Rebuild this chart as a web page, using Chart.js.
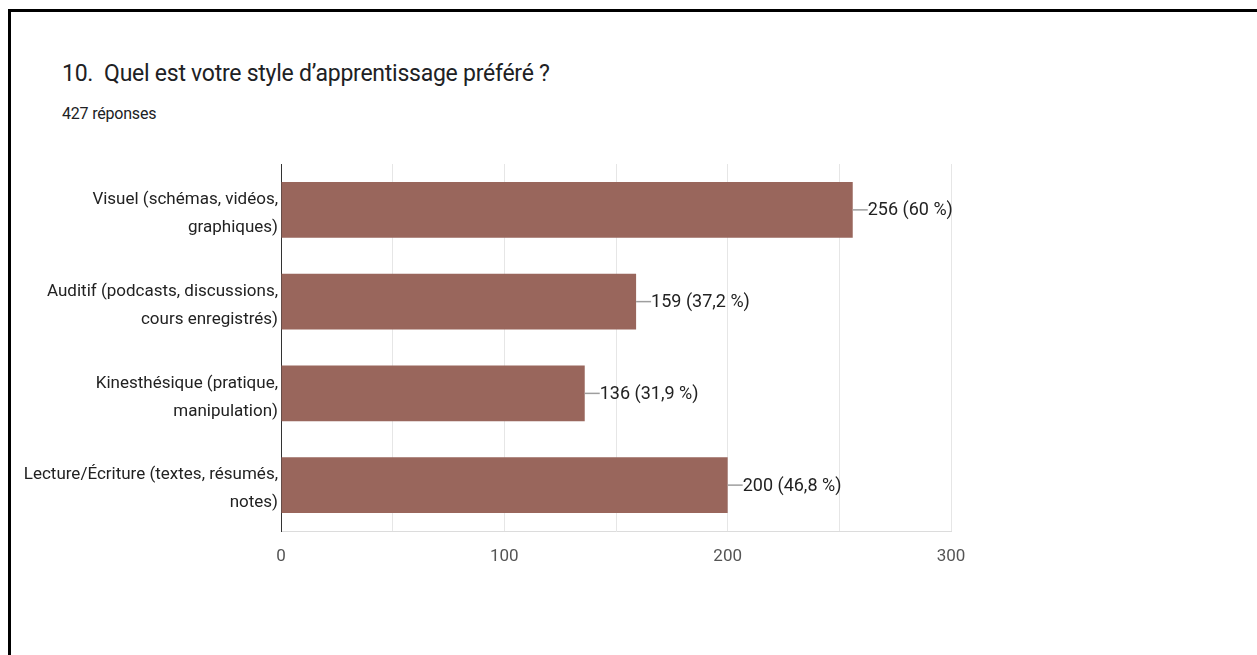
<!DOCTYPE html>
<html>
<head>
<meta charset="utf-8">
<script src="https://cdn.jsdelivr.net/npm/chart.js@4.4.1/dist/chart.umd.min.js"></script>
<style>
  html, body { margin: 0; padding: 0; background: #fff; width: 1257px; height: 655px; overflow: hidden; }
  #frameTop { position: absolute; left: 8px; top: 9px; width: 1249px; height: 3px; background: #000; }
  #frameLeft { position: absolute; left: 8px; top: 9px; width: 3px; height: 646px; background: #000; }
  #title { position: absolute; left: 62px; top: 60px; font-family: Roboto, "Noto Sans", sans-serif; font-size: 23px; color: #202124; white-space: pre; letter-spacing: -0.25px; }
  #subtitle { position: absolute; left: 62px; top: 104px; font-family: Roboto, "Noto Sans", sans-serif; font-size: 16px; color: #202124; letter-spacing: -0.2px; }
  #wrap { position: absolute; left: 21px; top: 141px; width: 1100px; height: 440px; }
</style>
</head>
<body>
<div id="frameTop"></div>
<div id="frameLeft"></div>
<div id="title">10.  Quel est votre style d’apprentissage préféré ?</div>
<div id="subtitle">427 réponses</div>
<div id="wrap"><canvas id="c"></canvas></div>
<script>
const categories = [
  ["Visuel (schémas, vidéos,", "graphiques)"],
  ["Auditif (podcasts, discussions,", "cours enregistrés)"],
  ["Kinesthésique (pratique,", "manipulation)"],
  ["Lecture/Écriture (textes, résumés,", "notes)"]
];
const counts = [256, 159, 136, 200];
const percents = ["60", "37,2", "31,9", "46,8"];
const xTicks = [0, 100, 200, 300];

const LABEL_FONT = "Roboto, sans-serif";

const valueLabels = {
  id: 'valueLabels',
  afterDatasetsDraw(chart) {
    const ctx = chart.ctx;
    const meta = chart.getDatasetMeta(0);
    ctx.save();
    meta.data.forEach((bar, i) => {
      const x = bar.x, y = bar.y;
      ctx.strokeStyle = '#9e9e9e';
      ctx.lineWidth = 1.5;
      ctx.beginPath();
      ctx.moveTo(x, y);
      ctx.lineTo(x + 15, y);
      ctx.stroke();
      ctx.fillStyle = '#222';
      ctx.font = "18px " + LABEL_FONT;
      ctx.textBaseline = 'middle';
      ctx.textAlign = 'left';
      ctx.fillText(counts[i] + ' (' + percents[i] + ' %)', x + 15, y + 1);
    });
    ctx.restore();
  }
};

new Chart(document.getElementById('c'), {
  type: 'bar',
  data: {
    labels: categories,
    datasets: [{
      data: counts,
      backgroundColor: '#99665c',
      borderWidth: 0,
      categoryPercentage: 1,
      barPercentage: 0.61
    }]
  },
  options: {
    indexAxis: 'y',
    responsive: true,
    maintainAspectRatio: false,
    animation: false,
    layout: { padding: { top: 23, right: 170, left: 0, bottom: 0 } },
    plugins: { legend: { display: false }, tooltip: { enabled: false } },
    scales: {
      x: {
        min: 0, max: 300,
        afterBuildTicks(scale) {
          const t = [];
          for (let v = 0; v <= 300; v += 50) t.push({ value: v });
          scale.ticks = t;
        },
        ticks: {
          color: '#555',
          font: { family: LABEL_FONT, size: 17 },
          padding: 16,
          maxRotation: 0,
          autoSkip: false,
          callback: (v) => xTicks.includes(v) ? String(v) : ''
        },
        grid: { color: '#e6e6e6', lineWidth: 1, drawTicks: false },
        border: { display: true, color: '#dcdcdc' },
        afterFit(scale) { scale.height = 50; scale.paddingLeft = 0; scale.paddingRight = 0; }
      },
      y: {
        ticks: {
          color: '#222',
          font: { family: LABEL_FONT, size: 17, lineHeight: 1.65 },
          padding: 3,
          labelOffset: 4,
          autoSkip: false
        },
        grid: { display: false, drawTicks: false },
        border: { display: true, color: '#333', width: 1 },
        afterFit(scale) { scale.width = 260; scale.paddingTop = 0; scale.paddingBottom = 0; }
      }
    }
  },
  plugins: [valueLabels]
});
</script>
</body>
</html>
